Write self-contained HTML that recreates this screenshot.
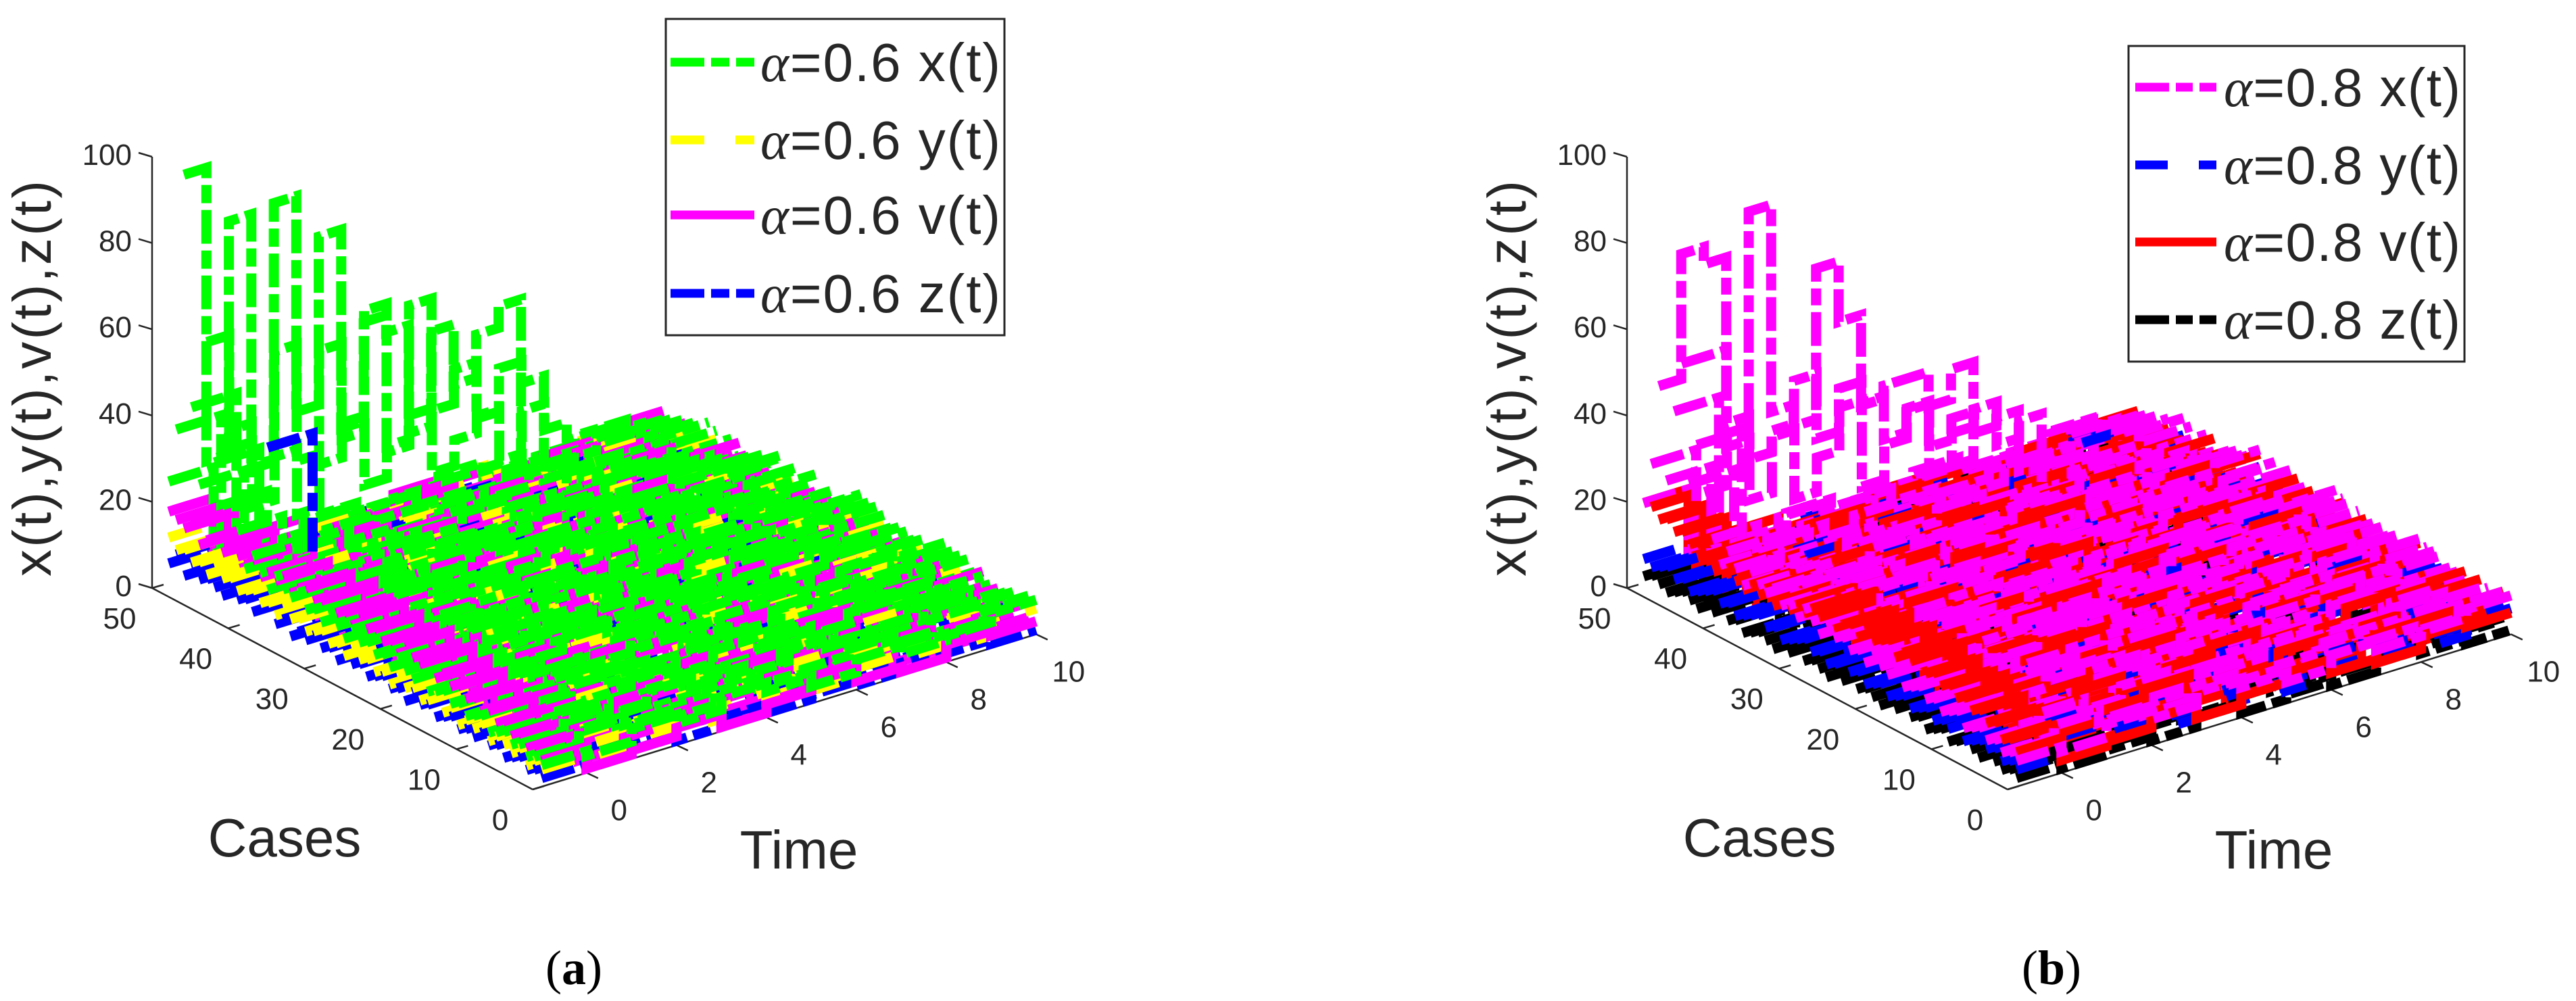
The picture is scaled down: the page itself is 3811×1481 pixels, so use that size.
<!DOCTYPE html>
<html><head><meta charset="utf-8"><style>
html,body{margin:0;padding:0;background:#fff;}
svg{display:block;}
text{font-family:"Liberation Sans",Arial,sans-serif;fill:#262626;}
</style></head><body>
<svg id="fig" width="3811" height="1481" viewBox="0 0 3811 1481" xmlns="http://www.w3.org/2000/svg">
<rect x="0" y="0" width="3811" height="1481" fill="#fff"/>
<g id="panelA"></g>
<g id="panelB"></g>

<g>
<rect x="985" y="28" width="501" height="468" fill="#fff" stroke="#262626" stroke-width="3"/>
<line x1="992" y1="92" x2="1116" y2="92" stroke="#00ff00" stroke-width="13" stroke-dasharray="50 10 27 10 27"/>
<text x="1125" y="120" font-size="80" textLength="355"><tspan font-family="Liberation Serif,serif" font-style="italic">α</tspan>=0.6 x(t)</text>
<line x1="992" y1="207" x2="1116" y2="207" stroke="#ffff00" stroke-width="13" stroke-dasharray="50 46 28"/>
<text x="1125" y="235" font-size="80" textLength="355"><tspan font-family="Liberation Serif,serif" font-style="italic">α</tspan>=0.6 y(t)</text>
<line x1="992" y1="318" x2="1116" y2="318" stroke="#ff00ff" stroke-width="13"/>
<text x="1125" y="346" font-size="80" textLength="355"><tspan font-family="Liberation Serif,serif" font-style="italic">α</tspan>=0.6 v(t)</text>
<line x1="992" y1="434" x2="1116" y2="434" stroke="#0000ff" stroke-width="13" stroke-dasharray="50 10 27 10 27"/>
<text x="1125" y="462" font-size="80" textLength="355"><tspan font-family="Liberation Serif,serif" font-style="italic">α</tspan>=0.6 z(t)</text>
</g>

<g>
<rect x="3149" y="68" width="497" height="467" fill="#fff" stroke="#262626" stroke-width="3"/>
<line x1="3159" y1="129" x2="3279" y2="129" stroke="#ff00ff" stroke-width="13" stroke-dasharray="50 10 25 10 25"/>
<text x="3290" y="157" font-size="80" textLength="350"><tspan font-family="Liberation Serif,serif" font-style="italic">α</tspan>=0.8 x(t)</text>
<line x1="3159" y1="244" x2="3279" y2="244" stroke="#0000ff" stroke-width="13" stroke-dasharray="48 46 26"/>
<text x="3290" y="272" font-size="80" textLength="350"><tspan font-family="Liberation Serif,serif" font-style="italic">α</tspan>=0.8 y(t)</text>
<line x1="3159" y1="358" x2="3279" y2="358" stroke="#ff0000" stroke-width="13"/>
<text x="3290" y="386" font-size="80" textLength="350"><tspan font-family="Liberation Serif,serif" font-style="italic">α</tspan>=0.8 v(t)</text>
<line x1="3159" y1="473" x2="3279" y2="473" stroke="#000000" stroke-width="13" stroke-dasharray="50 10 25 10 25"/>
<text x="3290" y="501" font-size="80" textLength="350"><tspan font-family="Liberation Serif,serif" font-style="italic">α</tspan>=0.8 z(t)</text>
</g>

<text x="849" y="1456" font-size="72" text-anchor="middle" style="font-family:'Liberation Serif',serif;fill:#000">(<tspan font-weight="bold">a</tspan>)</text>
<text x="3035" y="1456" font-size="72" text-anchor="middle" style="font-family:'Liberation Serif',serif;fill:#000">(<tspan font-weight="bold">b</tspan>)</text>
</svg>
<script>
// ---- shared axis data ----
const zTicks = [0, 20, 40, 60, 80, 100];
const caseTicks = [0, 10, 20, 30, 40, 50];
const timeTicks = [0, 2, 4, 6, 8, 10];
const backGridStart = -1;
const backGridStep = 0.5;

// ---- panel (a) data, alpha = 0.6 ----
const aXInit  = [5,6,5,7,6,8,7,6,9,8, 7,9,8,10,9,8,11,9,10,12, 9,11,10,12,11,13,10,12,14,11, 13,12,15,13,14,16,12,15,18,14, 22,30,26,35,40,28,45,32,38,25];
const aXLevel = [4,5,4,6,5,4,6,5,7,5, 6,5,7,6,5,7,6,8,6,7, 5,7,6,8,7,6,5,7,6,8, 7,6,5,7,6,5,7,6,4,5, 6,5,4,6,5,4,5,3,4,3];
const aXTimeVar = [0,3,1,4,2,0,3,1,2,4,1];
const aYInit  = [4,5,3,6,4,5,6,4,7,5, 6,4,7,5,8,6,5,7,6,8, 5,7,6,8,7,9,6,8,7,9, 8,7,9,8,10,7,9,8,10,9, 8,10,9,11,8,10,9,11,10,12];
const aYLevel = [3,2,4,3,2,4,3,5,3,2, 4,3,2,4,3,5,2,4,3,2, 4,3,5,2,4,3,2,4,3,5, 3,2,4,3,2,4,3,2,4,3, 2,4,3,2,3,4,2,3,2,3];
const aYTimeVar = [0,2,0,3,1,0,2,1,0,3,1];
const aVInit  = [6,8,7,9,8,10,9,11,10,12, 11,13,12,14,12,15,13,14,16,13, 15,14,16,15,17,14,16,15,18,16, 15,17,16,14,17,15,16,14,17,15, 16,18,15,17,16,14,18,16,17,18];
const aVLevel = [1,2,3,2,4,3,2,5,3,4, 2,3,5,4,2,3,4,2,5,3, 4,2,3,4,5,2,3,4,2,3, 5,4,3,2,4,3,5,2,3,4, 2,3,4,2,3,2,4,3,2,3];
const aVTimeVar = [0,1,3,0,2,4,1,0,3,2,0];
const aZInit  = [2,3,2,4,3,2,4,3,5,3, 4,3,5,4,3,5,4,6,3,5, 4,6,5,4,6,5,7,4,6,5, 7,5,6,4,7,5,45,8,5,7, 6,8,5,6,7,6,8,5,9,6];
const aZLevel = [1,2,1,2,3,1,2,1,3,2, 1,2,3,1,2,1,3,2,1,2, 3,1,2,1,2,3,1,2,1,3, 2,1,2,3,1,2,1,3,2,1, 2,1,3,2,1,2,1,2,1,2];
const aZTimeVar = [0,1,0,2,0,1,0,2,1,0,1];
const aBackCases = [47, 44, 41];
const aXBack1 = [98,30,84,25,85,35,74,28,51,47,22,44,30,40,45,6,5,6,5,6,5,4];
const aXBack2 = [62,40,30,55,28,52,30,58,25,56,30,38,25,35,30,6,5,6,5,6,5,4];
const aXBack3 = [40,25,35,20,30,38,22,28,35,20,26,30,18,28,22,6,5,6,5,6,5,4];

// ---- panel (b) data, alpha = 0.8 ----
const bXInit  = [6,7,6,8,7,9,8,7,10,9, 8,10,9,11,10,9,12,10,11,13, 10,12,11,13,12,14,11,13,15,12, 14,13,16,14,15,17,13,16,19,15, 20,25,40,30,35,45,28,38,30,20];
const bXLevel = [5,6,5,7,6,5,7,6,8,6, 7,6,8,7,6,8,7,9,7,8, 6,8,7,9,8,7,6,8,7,9, 8,7,6,8,7,6,8,7,5,6, 7,6,5,7,6,5,6,4,5,4];
const bXTimeVar = [0,3,1,4,2,0,3,1,2,4,1];
const bYInit  = [4,5,4,6,5,6,5,4,7,5, 6,5,7,6,5,7,6,5,7,6, 5,7,6,8,6,5,7,6,8,7, 6,5,7,6,8,7,6,5,7,6, 8,7,6,5,7,6,8,7,6,7];
const bYLevel = [3,4,2,5,3,4,2,6,3,4, 5,3,2,6,4,3,5,2,4,6, 3,5,4,2,6,3,4,5,2,3, 6,4,3,5,2,4,3,6,2,4, 3,5,2,4,3,2,4,3,2,3];
const bYTimeVar = [0,2,0,3,1,0,2,1,0,3,1];
const bVInit  = [8,10,9,12,11,13,12,14,13,15, 14,16,15,18,16,17,15,18,17,16, 18,15,17,16,14,17,15,16,14,15, 13,14,12,15,13,14,12,13,15,14, 16,15,17,16,18,17,19,18,20,20];
const bVLevel = [3,8,2,4,9,3,5,2,8,4, 3,6,9,2,4,8,3,5,2,9, 4,3,8,5,2,4,9,3,6,2, 8,4,3,9,5,2,4,8,3,5, 2,6,3,4,2,5,3,4,2,3];
const bVTimeVar = [0,1,3,0,2,4,1,0,3,2,0];
const bZInit  = [2,3,2,3,4,2,3,4,3,2, 4,3,2,4,3,5,3,4,2,3, 4,3,5,3,4,2,3,4,3,5, 3,4,2,3,4,3,2,4,3,5, 3,4,2,3,4,3,2,3,4,3];
const bZLevel = [1,2,1,3,2,1,2,3,1,2, 3,1,2,1,3,2,1,2,3,1, 2,1,3,2,1,2,3,1,2,1, 3,2,1,2,3,1,2,1,3,2, 1,2,1,3,2,1,2,1,2,1];
const bZTimeVar = [0,1,0,2,0,1,0,2,1,0,1];
const bBackCases = [47, 44, 41];
const bXBack1 = [49,78,74,30,83,35,30,65,51,30,33,33,25,32,6,5,6,5,6,5,6,5];
const bXBack2 = [57,57,40,30,35,45,30,40,35,25,30,20,25,20,22,5,6,5,6,5,6,5];
const bXBack3 = [30,42,25,38,22,30,40,20,28,35,18,26,30,20,24,5,6,5,6,5,6,5];

const NS = "http://www.w3.org/2000/svg";
function mk(tag, attrs, parent){
  const e = document.createElementNS(NS, tag);
  for (const k in attrs) e.setAttribute(k, attrs[k]);
  parent.appendChild(e);
  return e;
}
function makeProj(ox){
  return function(t, c, z){
    const tau = t + 1.2;
    return [ox + 66.5*tau - 11.26*c, 1168 - 20.5*tau - 5.96*c - 6.38*z];
  };
}
function stepPath(P, c, steps){
  let d = "";
  for (let i = 0; i < steps.length; i++){
    const s = steps[i];
    const a = P(s[0], c, s[2]);
    const b = P(s[1], c, s[2]);
    d += (i === 0 ? "M" : "L") + a[0].toFixed(1) + "," + a[1].toFixed(1) + "L" + b[0].toFixed(1) + "," + b[1].toFixed(1);
  }
  return d;
}
function simpleSteps(init, level, tv, c){
  const out = [[-1, 0, init]];
  for (let k = 0; k < 10; k++){
    out.push([k, k + 1, level + tv[(k + c*3) % tv.length]]);
  }
  return out;
}
function gridSteps(vals){
  const out = [];
  for (let k = 0; k < vals.length; k++){
    const t0 = backGridStart + backGridStep*k;
    out.push([t0, Math.min(10, t0 + backGridStep), vals[k]]);
  }
  return out;
}

function drawPanel(g, ox, cfg){
  const P = makeProj(ox);
  const axisColor = "#262626";
  const z0 = P(-1.2, 50, 0), z1 = P(-1.2, 50, 100);
  const zAxis = mk("line", {x1:z0[0], y1:z0[1], x2:z1[0], y2:z1[1], stroke:axisColor, "stroke-width":2.5}, g);
  
  
  zTicks.forEach(v => {
    const p = P(-1.2, 50, v);
    const tk = mk("line", {x1:p[0], y1:p[1], x2:p[0]-20, y2:p[1]-6, stroke:axisColor, "stroke-width":2.5}, g);
    
    
    const lb = mk("text", {x:p[0]-30, y:p[1]+12, "font-size":44, "text-anchor":"end"}, g);
    lb.textContent = v;
    
    
  });
  const c0 = P(-1.2, 0, 0), c1 = P(-1.2, 50, 0);
  const cAxis = mk("line", {x1:c0[0], y1:c0[1], x2:c1[0], y2:c1[1], stroke:axisColor, "stroke-width":2.5}, g);
  
  
  caseTicks.forEach(v => {
    const p = P(-1.2, v, 0);
    const tk = mk("line", {x1:p[0], y1:p[1], x2:p[0]+17, y2:p[1]-5, stroke:axisColor, "stroke-width":2.5}, g);
    
    
    const lb = mk("text", {x:p[0]-48, y:p[1]+60, "font-size":44, "text-anchor":"middle"}, g);
    lb.textContent = v;
    
    
  });
  const t0 = P(-1.2, 0, 0), t1 = P(10, 0, 0);
  const tAxis = mk("line", {x1:t0[0], y1:t0[1], x2:t1[0], y2:t1[1], stroke:axisColor, "stroke-width":2.5}, g);
  
  
  timeTicks.forEach(v => {
    const p = P(v, 0, 0);
    const tk = mk("line", {x1:p[0], y1:p[1], x2:p[0]+17, y2:p[1]+8, stroke:axisColor, "stroke-width":2.5}, g);
    
    
    const lb = mk("text", {x:p[0]+48, y:p[1]+70, "font-size":44, "text-anchor":"middle"}, g);
    lb.textContent = v;
    
    
  });
  const zt = mk("text", {x:0, y:0, "font-size":80, "text-anchor":"middle", textLength:586, transform:"translate(" + (ox-713) + ",560) rotate(-90)"}, g);
  zt.textContent = "x(t),y(t),v(t),z(t)";
  
  
  const ct = mk("text", {x:ox-367, y:1267, "font-size":80, "text-anchor":"middle"}, g);
  ct.textContent = "Cases";
  
  
  const tt = mk("text", {x:ox+394, y:1285, "font-size":80, "text-anchor":"middle"}, g);
  tt.textContent = "Time";
  
  

  const sg = mk("g", {fill:"none", "stroke-width":15, "stroke-linecap":"butt", "stroke-linejoin":"miter"}, g);
  
  
  for (let c = 49; c >= 0; c--){
    const order = ["z", "y", "v", "x"];
    order.forEach(key => {
      const s = cfg[key];
      let steps;
      const bi = cfg.backCases.indexOf(c);
      if (key === "x" && bi >= 0) steps = gridSteps(cfg.xBack[bi]);
      else steps = simpleSteps(s.init[c], s.level[c], s.tv, c);
      const p = mk("path", {d:stepPath(P, c, steps), stroke:s.color}, sg);
      if (s.dash) p.setAttribute("stroke-dasharray", s.dash);
      
      
    });
  }
}

drawPanel(document.getElementById("panelA"), 788, {
  x:{init:aXInit, level:aXLevel, tv:aXTimeVar, color:"#00ff00", dash:"50 10 27 10"},
  y:{init:aYInit, level:aYLevel, tv:aYTimeVar, color:"#ffff00", dash:"50 46"},
  v:{init:aVInit, level:aVLevel, tv:aVTimeVar, color:"#ff00ff", dash:null},
  z:{init:aZInit, level:aZLevel, tv:aZTimeVar, color:"#0000ff", dash:"50 10 27 10"},
  backCases:aBackCases, xBack:[aXBack1, aXBack2, aXBack3]
});
drawPanel(document.getElementById("panelB"), 2970, {
  x:{init:bXInit, level:bXLevel, tv:bXTimeVar, color:"#ff00ff", dash:"50 10 25 10"},
  y:{init:bYInit, level:bYLevel, tv:bYTimeVar, color:"#0000ff", dash:"48 46"},
  v:{init:bVInit, level:bVLevel, tv:bVTimeVar, color:"#ff0000", dash:null},
  z:{init:bZInit, level:bZLevel, tv:bZTimeVar, color:"#000000", dash:"50 10 25 10"},
  backCases:bBackCases, xBack:[bXBack1, bXBack2, bXBack3]
});
</script>
</body></html>
